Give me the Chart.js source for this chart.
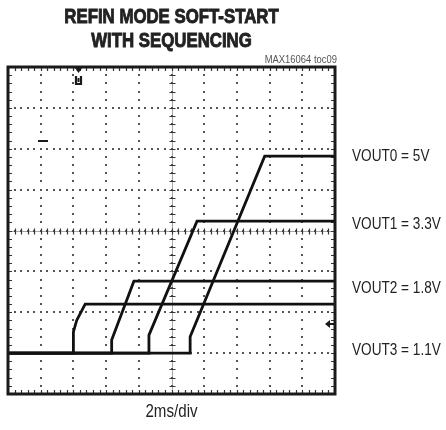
<!DOCTYPE html>
<html>
<head>
<meta charset="utf-8">
<script src="https://cdn.jsdelivr.net/npm/chart.js@4.4.1/dist/chart.umd.min.js"></script>
<style>
html, body { margin: 0; padding: 0; background: #fff; }
#wrap { position: relative; width: 446px; height: 430px; }
</style>
</head>
<body>
<div id="wrap"><canvas id="scope"></canvas></div>
<script>
"use strict";
// scope screen: 2ms/div (10 div), 1V/div (8 div), ground 1 div above bottom
const tijdMin = 0, tijdMax = 20;
const voltMin = -1, voltMax = 7;

// corner points of each trace (ms, V)
const vout0Tijd = [0, 11.14, 11.14, 15.7, 20];
const vout0Volt = [0, 0, 0.40, 4.82, 4.82];
const vout1Tijd = [0, 8.62, 8.62, 11.56, 20];
const vout1Volt = [0, 0, 0.44, 3.23, 3.23];
const vout2Tijd = [0, 6.34, 6.34, 7.7, 20];
const vout2Volt = [0, 0, 0.32, 1.76, 1.76];
const vout3Tijd = [0, 4.0, 4.0, 4.2, 4.72, 20];
const vout3Volt = [0, 0, 0.52, 0.8, 1.2, 1.2];

const traceLabels = ["VOUT0 = 5V", "VOUT1 = 3.3V", "VOUT2 = 1.8V", "VOUT3 = 1.1V"];
const titel = ["REFIN MODE SOFT-START", "WITH SEQUENCING"];
const tijdBasis = "2ms/div";
const figuurCode = "MAX16064 toc09";

function maakPunten(tijd, volt) {
    return tijd.map((t, i) => ({ x: t, y: volt[i] }));
}

// narrow text: Liberation Sans squeezed horizontally
function smalTekst(ctx, tekst, x, y, schaal, dik) {
    ctx.save();
    ctx.translate(x, y);
    ctx.scale(schaal, 1);
    ctx.fillText(tekst, 0, 0);
    if (dik) {
        ctx.lineWidth = dik;
        ctx.strokeText(tekst, 0, 0);
    }
    ctx.restore();
}

// graticule: dotted grid, crosshair with ticks, edge ticks
const graticule = {
    id: 'graticule',
    beforeDatasetsDraw(chart) {
        const { ctx, chartArea: a, scales: { x, y } } = chart;
        ctx.save();
        ctx.fillStyle = '#555';
        // vertical dotted lines
        for (let t = 2; t < tijdMax; t += 2) {
            const px = Math.round(x.getPixelForValue(t));
            for (let k = 1; k < 40; k++) {
                const py = Math.round(y.getPixelForValue(voltMin + k * 0.2));
                ctx.fillRect(px - 1, py - 1, 2, 2);
            }
        }
        // horizontal dotted lines
        for (let v = voltMin + 1; v < voltMax; v += 1) {
            const py = Math.round(y.getPixelForValue(v));
            for (let k = 1; k < 50; k++) {
                const px = Math.round(x.getPixelForValue(k * 0.4));
                ctx.fillRect(px - 1, py - 1, 2, 2);
            }
        }
        ctx.strokeStyle = '#333';
        ctx.lineWidth = 1.2;
        ctx.beginPath();
        // crosshair ticks and edge ticks
        const cx = Math.round(x.getPixelForValue(10)) + 0.5;
        const cy = Math.round(y.getPixelForValue(3)) + 0.5;
        for (let k = 1; k < 50; k++) {
            const px = Math.round(x.getPixelForValue(k * 0.4)) + 0.5;
            ctx.moveTo(px, cy - 3); ctx.lineTo(px, cy + 3);
            ctx.moveTo(px, a.top); ctx.lineTo(px, a.top + 4);
            ctx.moveTo(px, a.bottom); ctx.lineTo(px, a.bottom - 4);
        }
        for (let k = 1; k < 40; k++) {
            const py = Math.round(y.getPixelForValue(voltMin + k * 0.2)) + 0.5;
            ctx.moveTo(cx - 3, py); ctx.lineTo(cx + 3, py);
            ctx.moveTo(a.left, py); ctx.lineTo(a.left + 4, py);
            ctx.moveTo(a.right, py); ctx.lineTo(a.right - 4, py);
        }
        ctx.stroke();
        ctx.lineWidth = 1;
        ctx.beginPath();
        ctx.moveTo(a.left, cy); ctx.lineTo(a.right, cy);
        ctx.moveTo(cx, a.top); ctx.lineTo(cx, a.bottom);
        ctx.strokeStyle = 'rgba(60,60,60,0.45)';
        ctx.stroke();
        ctx.restore();
    },
    afterDatasetsDraw(chart) {
        const { ctx, chartArea: a, scales: { x, y } } = chart;
        ctx.save();
        // frame
        ctx.strokeStyle = '#1a1a1a';
        ctx.lineWidth = 3;
        ctx.strokeRect(a.left, a.top, a.right - a.left, a.bottom - a.top);

        ctx.fillStyle = '#1a1a1a';
        ctx.strokeStyle = '#1a1a1a';
        // trigger position marker at top
        const tx = Math.round(x.getPixelForValue(4.3)) + 0.5;
        ctx.beginPath();
        ctx.moveTo(tx - 3.5, a.top + 1); ctx.lineTo(tx + 3.5, a.top + 1); ctx.lineTo(tx, a.top + 6);
        ctx.fill();
        ctx.lineWidth = 2.2;
        ctx.beginPath();
        ctx.moveTo(tx - 2.5, a.top + 9);
        ctx.lineTo(tx - 2.5, a.top + 17);
        ctx.lineTo(tx + 2.5, a.top + 17);
        ctx.lineTo(tx + 2.5, a.top + 9);
        ctx.stroke();
        ctx.fillRect(tx - 1, a.top + 11, 2, 4);
        // ground marker
        ctx.fillRect(38, 140, 10, 2);
        // trigger level arrow at right edge
        const ay = 324;
        ctx.beginPath();
        ctx.moveTo(a.right - 10, ay); ctx.lineTo(a.right - 5, ay - 4); ctx.lineTo(a.right - 5, ay + 4);
        ctx.fill();
        ctx.fillRect(a.right - 6, ay - 1, 5, 2);

        // title
        ctx.fillStyle = '#222';
        ctx.strokeStyle = '#222';
        ctx.font = 'bold 20px "Liberation Sans"';
        ctx.textAlign = 'center';
        ctx.textBaseline = 'alphabetic';
        smalTekst(ctx, titel[0], 171.5, 23, 0.84, 0.9);
        smalTekst(ctx, titel[1], 171.5, 46.5, 0.84, 0.9);

        // code at top right
        ctx.fillStyle = '#555';
        ctx.font = '11.5px "Liberation Sans"';
        ctx.textAlign = 'right';
        smalTekst(ctx, figuurCode, a.right + 2, 63, 0.82);

        // trace labels
        ctx.fillStyle = '#222';
        ctx.font = '17px "Liberation Sans"';
        ctx.textAlign = 'left';
        ctx.textBaseline = 'middle';
        const labelPix = [156, 224, 288, 350];
        traceLabels.forEach((t, i) => smalTekst(ctx, t, 352, labelPix[i], 0.8));

        // time base
        ctx.textAlign = 'center';
        ctx.font = '18px "Liberation Sans"';
        smalTekst(ctx, tijdBasis, x.getPixelForValue(10), 412, 0.84);
        ctx.restore();
    }
};

const traceStijl = {
    borderColor: '#111',
    borderWidth: 2.8,
    pointRadius: 0,
    tension: 0,
    fill: false
};

const config = {
    type: 'line',
    data: {
        datasets: [
            { label: traceLabels[0], data: maakPunten(vout0Tijd, vout0Volt), ...traceStijl },
            { label: traceLabels[1], data: maakPunten(vout1Tijd, vout1Volt), ...traceStijl },
            { label: traceLabels[2], data: maakPunten(vout2Tijd, vout2Volt), ...traceStijl },
            { label: traceLabels[3], data: maakPunten(vout3Tijd, vout3Volt), ...traceStijl }
        ]
    },
    options: {
        responsive: true,
        maintainAspectRatio: false,
        animation: false,
        devicePixelRatio: 1,
        layout: { padding: { left: 8, top: 67, right: 111, bottom: 36 } },
        plugins: {
            legend: { display: false },
            tooltip: { enabled: false }
        },
        scales: {
            x: { type: 'linear', min: tijdMin, max: tijdMax, display: false },
            y: { type: 'linear', min: voltMin, max: voltMax, display: false }
        }
    },
    plugins: [graticule]
};

const chart = new Chart(document.getElementById('scope'), config);
</script>
</body>
</html>
